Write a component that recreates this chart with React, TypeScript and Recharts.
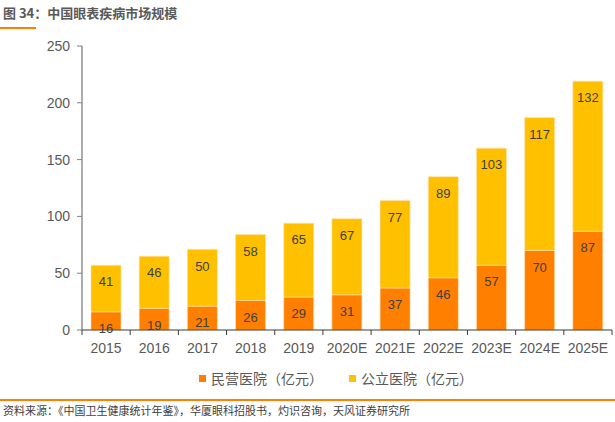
import React from 'react';
import { BarChart, Bar, XAxis, YAxis, LabelList } from 'recharts';

const categories = ['2015', '2016', '2017', '2018', '2019', '2020E', '2021E', '2022E', '2023E', '2024E', '2025E'];
const privateValues = [16, 19, 21, 26, 29, 31, 37, 46, 57, 70, 87];
const publicValues = [41, 46, 50, 58, 65, 67, 77, 89, 103, 117, 132];
const yTicks = [0, 50, 100, 150, 200, 250];
const seriesNames = ['民营医院（亿元）', '公立医院（亿元）'];
const seriesColors = ['#FF7F00', '#FFC000'];
const titleText = '图 34：中国眼表疾病市场规模';
const sourceText = '资料来源：《中国卫生健康统计年鉴》，华厦眼科招股书，灼识咨询，天风证券研究所';

const data = categories.map((c, i) => ({ name: c, priv: privateValues[i], pub: publicValues[i] }));

const W = 615;
const H = 422;
const PLOT_LEFT = 82;
const PLOT_RIGHT = 612;
const BAND = (PLOT_RIGHT - PLOT_LEFT) / categories.length;

const numFont = '"Liberation Sans", Arial, sans-serif';
const cjkFont = '"Noto Sans CJK SC", "Noto Sans", sans-serif';

function XTick(props: any) {
  const { x, y, payload, index } = props;
  const half = BAND / 2;
  return (
    <g>
      <line x1={x - half} x2={x - half} y1={y} y2={y + 5} stroke="#3a3a3a" strokeWidth={1} />
      {index === categories.length - 1 && (
        <line x1={x + half} x2={x + half} y1={y} y2={y + 5} stroke="#3a3a3a" strokeWidth={1} />
      )}
      <text x={x} y={y + 23} textAnchor="middle" fill="#595959" fontSize={14} fontFamily={numFont}>
        {payload.value}
      </text>
    </g>
  );
}

function LegendBox() {
  return (
    <div
      style={{
        position: 'absolute',
        left: 199,
        top: 368,
        display: 'flex',
        alignItems: 'center',
        fontFamily: cjkFont,
        fontSize: 14,
        color: '#595959',
      }}
    >
      {seriesNames.map((n, i) => (
        <div key={n} style={{ display: 'flex', alignItems: 'center', marginRight: i === 0 ? 26 : 0 }}>
          <span style={{ display: 'inline-block', width: 7, height: 7, background: seriesColors[i], marginRight: 5 }} />
          <span style={{ lineHeight: '20px' }}>{n}</span>
        </div>
      ))}
    </div>
  );
}

export default function App() {
  return (
    <div style={{ position: 'absolute', left: 0, top: 0, width: W, height: H, background: '#fff', overflow: 'hidden' }}>
      <div
        style={{
          position: 'absolute',
          left: 3,
          top: 3,
          fontFamily: cjkFont,
          fontSize: 13,
          fontWeight: 'bold',
          color: '#595959',
          lineHeight: '20px',
          whiteSpace: 'nowrap',
        }}
      >
        {titleText}
      </div>
      <div style={{ position: 'absolute', left: 0, top: 27, width: 36, height: 1.5, background: '#FF7F00' }} />
      <BarChart
        width={W}
        height={H}
        data={data}
        margin={{ top: 46, right: W - PLOT_RIGHT, bottom: 62, left: PLOT_LEFT - 40 }}
        barSize={30}
      >
        <YAxis
          width={40}
          domain={[0, 250]}
          ticks={yTicks}
          interval={0}
          axisLine={{ stroke: '#808080', strokeWidth: 1.3 }}
          tickLine={{ stroke: '#808080' }}
          tickSize={5}
          tickMargin={7}
          tick={{ fill: '#595959', fontSize: 14, fontFamily: numFont }}
        />
        <XAxis
          dataKey="name"
          interval={0}
          height={30}
          axisLine={{ stroke: '#3a3a3a', strokeWidth: 1 }}
          tickLine={false}
          tickSize={0}
          tickMargin={0}
          tick={<XTick />}
        />
        <Bar
          dataKey="priv"
          name={seriesNames[0]}
          stackId="a"
          fill={seriesColors[0]}
          stroke="#FFE3B0"
          strokeWidth={0.6}
          isAnimationActive={false}
        >
          <LabelList dataKey="priv" position="insideTop" offset={12} fill="#404040" fontSize={13} fontFamily={numFont} />
        </Bar>
        <Bar
          dataKey="pub"
          name={seriesNames[1]}
          stackId="a"
          fill={seriesColors[1]}
          stroke="#FFE3B0"
          strokeWidth={0.6}
          isAnimationActive={false}
        >
          <LabelList dataKey="pub" position="insideTop" offset={12} fill="#404040" fontSize={13} fontFamily={numFont} />
        </Bar>
      </BarChart>
      <LegendBox />
      <div style={{ position: 'absolute', left: 0, top: 399, width: W, height: 1.5, background: '#FF7F00' }} />
      <div
        style={{
          position: 'absolute',
          left: 3,
          top: 402,
          fontFamily: cjkFont,
          fontSize: 11,
          color: '#404040',
          lineHeight: '16px',
          whiteSpace: 'nowrap',
        }}
      >
        {sourceText}
      </div>
    </div>
  );
}
